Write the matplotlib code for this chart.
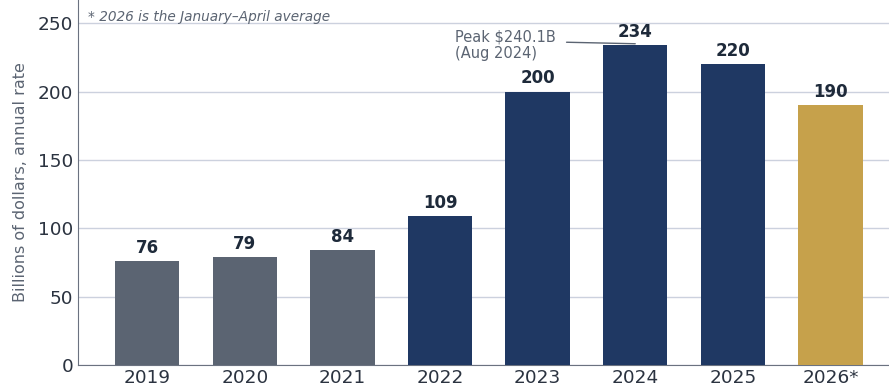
import numpy as np
import matplotlib as mpl
mpl.use('Agg')
import matplotlib.pyplot as plt

# categories and values
years = ['2019', '2020', '2021', '2022', '2023', '2024', '2025', '2026*']
values = [76, 79, 84, 109, 200, 234, 220, 190]
colors = ['#5b6472', '#5b6472', '#5b6472', '#1f3863', '#1f3863', '#1f3863', '#1f3863', '#c6a14b']
peak_year_index = 5
peak_text = 'Peak $240.1B\n(Aug 2024)'
footnote = '* 2026 is the January\u2013April average'

fig = plt.figure(figsize=(8.89, 3.87), dpi=100)
ax = fig.add_axes([0.0877, 0.0568, 0.9123, 0.9432])

x = np.arange(len(years))
bars = ax.bar(x, values, width=0.66, color=colors, zorder=3)
ax.bar_label(bars, labels=[str(v) for v in values], padding=3,
             fontsize=12, fontweight='bold', color='#1e2a3a')

ax.set_xlim(-0.71, 7.6)
ax.set_ylim(0, 267)
ax.set_yticks([0, 50, 100, 150, 200, 250])
ax.set_xticks(x, years)
ax.tick_params(axis='both', labelsize=13.3, colors='#2b3340', length=0)
ax.tick_params(axis='x', pad=3)
ax.set_ylabel('Billions of dollars, annual rate', fontsize=11.5,
              color='#5b6472', labelpad=7)

ax.grid(axis='y', color='#ccd1de', linewidth=1, zorder=0)
for s in ['top', 'right']:
    ax.spines[s].set_visible(False)
for s in ['left', 'bottom']:
    ax.spines[s].set_color('#6b7280')

ax.annotate(peak_text, xy=(peak_year_index, values[peak_year_index] + 1),
            xytext=(3.15, 234), fontsize=10.5, color='#5b6472',
            va='center', ha='left', linespacing=1.1,
            arrowprops=dict(arrowstyle='-', color='#5b6472', lw=1,
                            shrinkA=6, shrinkB=0, relpos=(1.0, 0.6)))

ax.text(0.012, 1 - 17 / 365, footnote, transform=ax.transAxes, fontsize=9.8,
        style='italic', color='#5b6472', va='center', ha='left')

fig.savefig('out.png', dpi=100)
